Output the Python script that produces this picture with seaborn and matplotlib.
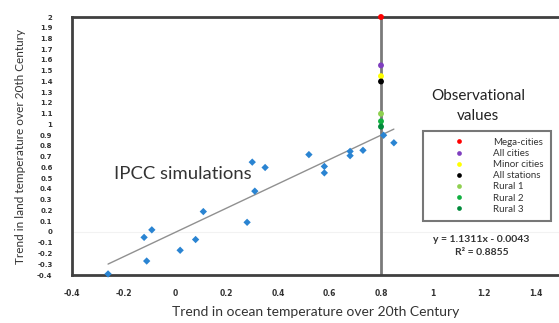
import matplotlib
matplotlib.use("Agg")
import matplotlib.pyplot as plt
import seaborn as sns
import numpy as np
import pandas as pd

# IPCC simulation points (ocean trend, land trend)
ipcc_x = [-0.26, -0.12, -0.09, -0.11, 0.02, 0.08, 0.11, 0.28, 0.30, 0.31,
          0.35, 0.52, 0.58, 0.58, 0.68, 0.68, 0.73, 0.85, 0.81]
ipcc_y = [-0.39, -0.05, 0.02, -0.27, -0.17, -0.07, 0.19, 0.09, 0.65, 0.38,
          0.60, 0.72, 0.61, 0.55, 0.75, 0.71, 0.76, 0.83, 0.90]

# Observational values (all at observed ocean trend 0.8)
obs_labels = ["Mega-cities", "All cities", "Minor cities", "All stations",
              "Rural 1", "Rural 2", "Rural 3"]
obs_x = [0.8, 0.8, 0.8, 0.8, 0.8, 0.8, 0.8]
obs_y = [2.0, 1.55, 1.45, 1.40, 1.10, 1.03, 0.98]
obs_colors = ["#ff0000", "#7f3fbf", "#ffff00", "#000000", "#8fd050", "#10b040", "#008a3a"]

# regression from chart
slope, intercept = 1.1311, -0.0043
fit_x = [min(ipcc_x), max(ipcc_x)]

x_ticks = [-0.4, -0.2, 0, 0.2, 0.4, 0.6, 0.8, 1, 1.2, 1.4]
x_tick_labels = ["-0.4", "-0.2", "0", "0.2", "0.4", "0.6", "0.8", "1", "1.2", "1.4"]
y_ticks = [round(v, 1) + 0.0 for v in np.arange(-0.4, 2.01, 0.1)]
y_tick_labels = ["0" if abs(v) < 1e-9 else ("%g" % v) for v in y_ticks]

sns.set_theme(style="white")
plt.rcParams['font.family'] = ['Lato', 'DejaVu Sans']

fig = plt.figure(figsize=(5.59, 3.23), dpi=100)
ax = fig.add_axes([72/559, 1-275/323, (559-72)/559, 258/323])

ax.axhline(0, color="#f2f2f2", lw=0.8, zorder=0)
ax.axvline(0.8, color="#7a7a7a", lw=2, zorder=1)

fit_df = pd.DataFrame({"x": fit_x, "y": [slope*v + intercept for v in fit_x]})
sns.lineplot(data=fit_df, x="x", y="y", ax=ax, color="#909090", lw=1, zorder=2)

ipcc_df = pd.DataFrame({"x": ipcc_x, "y": ipcc_y})
sns.scatterplot(data=ipcc_df, x="x", y="y", ax=ax, color="#2a84d2", marker="D",
                s=14, edgecolor="none", zorder=3, clip_on=False)

obs_df = pd.DataFrame({"x": obs_x, "y": obs_y, "label": obs_labels})
sns.scatterplot(data=obs_df, x="x", y="y", hue="label", palette=dict(zip(obs_labels, obs_colors)),
                hue_order=obs_labels, ax=ax, s=18, edgecolor="none", zorder=4, clip_on=False)

ax.set_xlim(-0.4, -0.4 + 487/257.5)
ax.set_ylim(-0.4, 2.0)
tick_font = dict(family=["DejaVu Sans"], weight="bold", color="#333333")
ax.set_xticks(x_ticks)
ax.set_xticklabels(x_tick_labels, fontsize=5.5, **tick_font)
ax.set_yticks(y_ticks)
ax.set_yticklabels(y_tick_labels, fontsize=5, **tick_font)
ax.tick_params(axis="x", length=0, pad=10)
ax.tick_params(axis="y", length=0, pad=14)

ax.set_xlabel("Trend in ocean temperature over 20th Century", fontsize=10, color="#333333", labelpad=6)
ax.set_ylabel("Trend in land temperature over 20th Century", fontsize=8.5, color="#333333", labelpad=8)

for side in ["left", "bottom", "top"]:
    ax.spines[side].set_color("#404040")
    ax.spines[side].set_linewidth(2)
ax.spines["right"].set_visible(False)

ax.text(-0.237, 0.54, "IPCC simulations", fontsize=13.3, color="#333333", va="center", ha="left")
ax.text(1.177, 1.172, "Observational\nvalues", fontsize=11, color="#222222", ha="center", va="center",
        linespacing=1.5)
ax.text(1.19, -0.13, "y = 1.1311x - 0.0043\nR² = 0.8855", fontsize=7.5, fontweight="bold",
        color="#333333", ha="center", va="center", linespacing=1.5)

leg = ax.legend(loc="upper left", bbox_to_anchor=(0.72, 0.56), fontsize=7, frameon=True,
                fancybox=False, handlelength=6.0, handletextpad=0.5, labelspacing=0.22,
                borderpad=0.75, borderaxespad=0, markerscale=0.8)
leg.get_frame().set_edgecolor("#555555")
leg.get_frame().set_linewidth(1.5)
for t in leg.get_texts():
    t.set_color("#333333")

fig.savefig("out.png", dpi=100)
